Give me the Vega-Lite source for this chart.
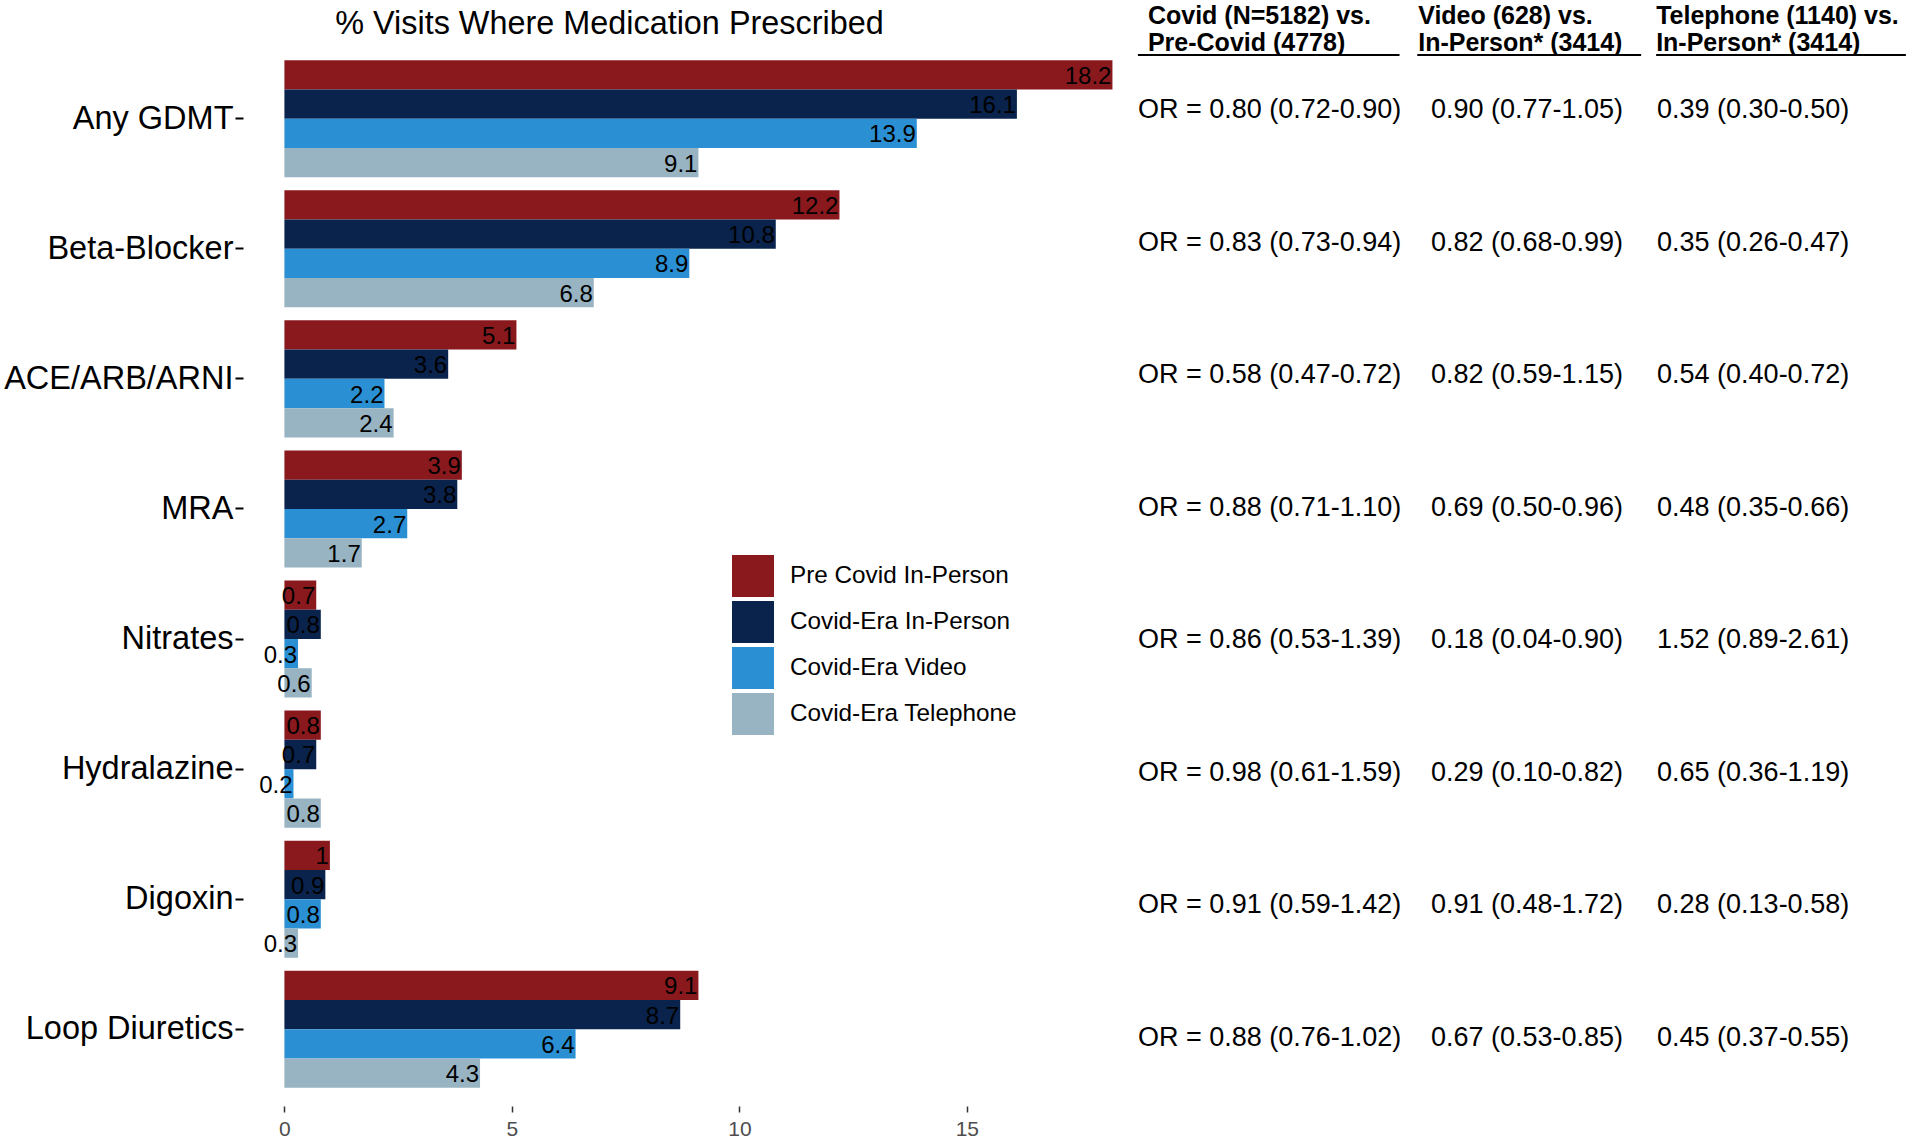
{
  "$schema": "https://vega.github.io/schema/vega-lite/v6.json",
  "padding": {"left": 3, "top": 0, "right": 0, "bottom": 0},
  "autosize": {"type": "pad"},
  "background": "white",
  "config": {"view": {"stroke": null}, "font": "Liberation Sans", "text": {"font": "Liberation Sans"}},
  "spacing": 0,
  "datasets": {
    "bars": [
      {"med": "Any GDMT", "grp": "Pre  Covid In-Person", "value": 18.2},
      {"med": "Any GDMT", "grp": "Covid-Era In-Person", "value": 16.1},
      {"med": "Any GDMT", "grp": "Covid-Era Video", "value": 13.9},
      {"med": "Any GDMT", "grp": "Covid-Era Telephone", "value": 9.1},
      {"med": "Beta-Blocker", "grp": "Pre  Covid In-Person", "value": 12.2},
      {"med": "Beta-Blocker", "grp": "Covid-Era In-Person", "value": 10.8},
      {"med": "Beta-Blocker", "grp": "Covid-Era Video", "value": 8.9},
      {"med": "Beta-Blocker", "grp": "Covid-Era Telephone", "value": 6.8},
      {"med": "ACE/ARB/ARNI", "grp": "Pre  Covid In-Person", "value": 5.1},
      {"med": "ACE/ARB/ARNI", "grp": "Covid-Era In-Person", "value": 3.6},
      {"med": "ACE/ARB/ARNI", "grp": "Covid-Era Video", "value": 2.2},
      {"med": "ACE/ARB/ARNI", "grp": "Covid-Era Telephone", "value": 2.4},
      {"med": "MRA", "grp": "Pre  Covid In-Person", "value": 3.9},
      {"med": "MRA", "grp": "Covid-Era In-Person", "value": 3.8},
      {"med": "MRA", "grp": "Covid-Era Video", "value": 2.7},
      {"med": "MRA", "grp": "Covid-Era Telephone", "value": 1.7},
      {"med": "Nitrates", "grp": "Pre  Covid In-Person", "value": 0.7},
      {"med": "Nitrates", "grp": "Covid-Era In-Person", "value": 0.8},
      {"med": "Nitrates", "grp": "Covid-Era Video", "value": 0.3},
      {"med": "Nitrates", "grp": "Covid-Era Telephone", "value": 0.6},
      {"med": "Hydralazine", "grp": "Pre  Covid In-Person", "value": 0.8},
      {"med": "Hydralazine", "grp": "Covid-Era In-Person", "value": 0.7},
      {"med": "Hydralazine", "grp": "Covid-Era Video", "value": 0.2},
      {"med": "Hydralazine", "grp": "Covid-Era Telephone", "value": 0.8},
      {"med": "Digoxin", "grp": "Pre  Covid In-Person", "value": 1.0},
      {"med": "Digoxin", "grp": "Covid-Era In-Person", "value": 0.9},
      {"med": "Digoxin", "grp": "Covid-Era Video", "value": 0.8},
      {"med": "Digoxin", "grp": "Covid-Era Telephone", "value": 0.3},
      {"med": "Loop Diuretics", "grp": "Pre  Covid In-Person", "value": 9.1},
      {"med": "Loop Diuretics", "grp": "Covid-Era In-Person", "value": 8.7},
      {"med": "Loop Diuretics", "grp": "Covid-Era Video", "value": 6.4},
      {"med": "Loop Diuretics", "grp": "Covid-Era Telephone", "value": 4.3}
    ],
    "or": [
      {"med": "Any GDMT", "c1": "OR = 0.80 (0.72-0.90)", "c2": "0.90 (0.77-1.05)", "c3": "0.39 (0.30-0.50)"},
      {"med": "Beta-Blocker", "c1": "OR = 0.83 (0.73-0.94)", "c2": "0.82 (0.68-0.99)", "c3": "0.35 (0.26-0.47)"},
      {"med": "ACE/ARB/ARNI", "c1": "OR = 0.58 (0.47-0.72)", "c2": "0.82 (0.59-1.15)", "c3": "0.54 (0.40-0.72)"},
      {"med": "MRA", "c1": "OR = 0.88 (0.71-1.10)", "c2": "0.69 (0.50-0.96)", "c3": "0.48 (0.35-0.66)"},
      {"med": "Nitrates", "c1": "OR = 0.86 (0.53-1.39)", "c2": "0.18 (0.04-0.90)", "c3": "1.52 (0.89-2.61)"},
      {"med": "Hydralazine", "c1": "OR = 0.98 (0.61-1.59)", "c2": "0.29 (0.10-0.82)", "c3": "0.65 (0.36-1.19)"},
      {"med": "Digoxin", "c1": "OR = 0.91 (0.59-1.42)", "c2": "0.91 (0.48-1.72)", "c3": "0.28 (0.13-0.58)"},
      {"med": "Loop Diuretics", "c1": "OR = 0.88 (0.76-1.02)", "c2": "0.67 (0.53-0.85)", "c3": "0.45 (0.37-0.55)"}
    ]
  },
  "vconcat": [
    {
      "width": 1667,
      "height": 56,
      "layer": [
        {
          "data": {"values": [{"t": "% Visits Where Medication Prescribed"}]},
          "mark": {"type": "text", "fontSize": 32.4, "align": "center", "baseline": "middle", "color": "black"},
          "encoding": {
            "x": {"datum": 7.145, "type": "quantitative", "scale": {"domain": [-0.91, 35.73], "nice": false, "zero": false}, "axis": null},
            "y": {"datum": 1.30909, "type": "quantitative", "scale": {"domain": [0.43636, 2.47273], "reverse": true, "nice": false, "zero": false}, "axis": null},
            "text": {"field": "t"}
          }
        },
        {
          "data": {"values": [{"line": 1, "t": "Covid (N=5182) vs."}, {"line": 2, "t": "Pre-Covid (4778)"}]},
          "mark": {"type": "text", "fontSize": 25, "fontWeight": "bold", "align": "left", "baseline": "middle", "color": "black"},
          "encoding": {
            "x": {"datum": 18.98, "type": "quantitative"},
            "y": {"field": "line", "type": "quantitative"},
            "text": {"field": "t"}
          }
        },
        {
          "data": {"values": [{"line": 1, "t": "Video (628) vs."}, {"line": 2, "t": "In-Person* (3414)"}]},
          "mark": {"type": "text", "fontSize": 25, "fontWeight": "bold", "align": "left", "baseline": "middle", "color": "black"},
          "encoding": {
            "x": {"datum": 24.92, "type": "quantitative"},
            "y": {"field": "line", "type": "quantitative"},
            "text": {"field": "t"}
          }
        },
        {
          "data": {"values": [{"line": 1, "t": "Telephone (1140) vs."}, {"line": 2, "t": "In-Person* (3414)"}]},
          "mark": {"type": "text", "fontSize": 25, "fontWeight": "bold", "align": "left", "baseline": "middle", "color": "black"},
          "encoding": {
            "x": {"datum": 30.15, "type": "quantitative"},
            "y": {"field": "line", "type": "quantitative"},
            "text": {"field": "t"}
          }
        },
        {
          "data": {"values": [{"k": 1}]},
          "mark": {"type": "rule", "color": "black", "strokeWidth": 2},
          "encoding": {
            "x": {"datum": 18.76, "type": "quantitative"},
            "x2": {"datum": 24.51},
            "y": {"datum": 2.43636, "type": "quantitative"}
          }
        },
        {
          "data": {"values": [{"k": 1}]},
          "mark": {"type": "rule", "color": "black", "strokeWidth": 2},
          "encoding": {
            "x": {"datum": 24.9, "type": "quantitative"},
            "x2": {"datum": 29.82},
            "y": {"datum": 2.43636, "type": "quantitative"}
          }
        },
        {
          "data": {"values": [{"k": 1}]},
          "mark": {"type": "rule", "color": "black", "strokeWidth": 2},
          "encoding": {
            "x": {"datum": 30.15, "type": "quantitative"},
            "x2": {"datum": 35.64},
            "y": {"datum": 2.43636, "type": "quantitative"}
          }
        }
      ]
    },
    {
      "width": 1667,
      "height": 1036,
      "resolve": {"scale": {"y": "independent"}, "axis": {"y": "independent"}},
      "layer": [
        {
          "data": {"name": "bars"},
          "layer": [
            {
              "mark": {"type": "bar", "strokeWidth": 0},
              "encoding": {
                "y": {
                  "field": "med", "type": "nominal",
                  "scale": {"domain": ["Any GDMT", "Beta-Blocker", "ACE/ARB/ARNI", "MRA", "Nitrates", "Hydralazine", "Digoxin", "Loop Diuretics"], "paddingInner": 0.1, "paddingOuter": 0.032},
                  "axis": {"title": null, "domain": false, "ticks": true, "tickSize": 8, "tickWidth": 2, "tickColor": "black", "labelFontSize": 32.5, "labelColor": "black", "labelPadding": 2, "labelFont": "Liberation Sans", "labelLimit": 0}
                },
                "yOffset": {
                  "field": "grp", "type": "nominal",
                  "scale": {"domain": ["Pre  Covid In-Person", "Covid-Era In-Person", "Covid-Era Video", "Covid-Era Telephone"], "paddingInner": 0, "paddingOuter": 0}
                },
                "x": {
                  "field": "value", "type": "quantitative",
                  "scale": {"domain": [-0.91, 35.73], "nice": false, "zero": false},
                  "axis": {"title": null, "values": [0, 5, 10, 15], "domain": false, "grid": false, "ticks": true, "tickSize": 6, "tickWidth": 1.5, "tickColor": "#333333", "labelFontSize": 21, "labelColor": "#4D4D4D", "labelPadding": 6, "offset": 14, "labelFont": "Liberation Sans"}
                },
                "x2": {"datum": 0},
                "color": {
                  "field": "grp", "type": "nominal",
                  "scale": {"domain": ["Pre  Covid In-Person", "Covid-Era In-Person", "Covid-Era Video", "Covid-Era Telephone"], "range": ["#8A191E", "#0A234C", "#2A90D3", "#98B3C2"]},
                  "legend": {"title": null, "orient": "none", "legendX": 489, "legendY": 555, "symbolType": "square", "symbolSize": 1764, "symbolStrokeWidth": 0, "symbolOpacity": 1, "labelFontSize": 24.3, "labelFont": "Liberation Sans", "labelColor": "black", "labelLimit": 0, "rowPadding": 4, "labelOffset": 16, "padding": 0, "direction": "vertical"}
                }
              }
            },
            {
              "mark": {"type": "text", "fontSize": 24, "align": "right", "baseline": "middle", "color": "black", "dx": -1, "dy": 2},
              "encoding": {
                "y": {"field": "med", "type": "nominal"},
                "yOffset": {"field": "grp", "type": "nominal"},
                "x": {"field": "value", "type": "quantitative"},
                "text": {"field": "value", "type": "quantitative", "format": ".1~f"}
              }
            }
          ]
        },
        {
          "data": {"name": "or"},
          "encoding": {
            "y": {
              "field": "med", "type": "nominal",
              "scale": {"type": "point", "domain": ["Any GDMT", "Beta-Blocker", "ACE/ARB/ARNI", "MRA", "Nitrates", "Hydralazine", "Digoxin", "Loop Diuretics"], "padding": 0.408},
              "axis": null
            }
          },
          "layer": [
            {
              "mark": {"type": "text", "fontSize": 27, "align": "left", "baseline": "middle", "color": "black"},
              "encoding": {
                "x": {"datum": 18.76, "type": "quantitative"},
                "text": {"field": "c1"}
              }
            },
            {
              "mark": {"type": "text", "fontSize": 27, "align": "left", "baseline": "middle", "color": "black"},
              "encoding": {
                "x": {"datum": 25.2, "type": "quantitative"},
                "text": {"field": "c2"}
              }
            },
            {
              "mark": {"type": "text", "fontSize": 27, "align": "left", "baseline": "middle", "color": "black"},
              "encoding": {
                "x": {"datum": 30.17, "type": "quantitative"},
                "text": {"field": "c3"}
              }
            }
          ]
        }
      ]
    }
  ]
}
